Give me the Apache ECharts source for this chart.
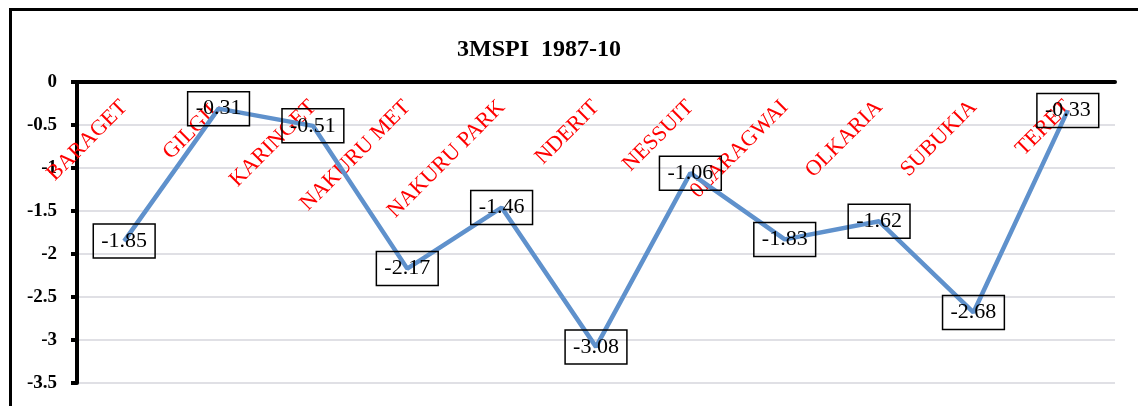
<!DOCTYPE html>
<html>
<head>
<meta charset="utf-8">
<script src="https://cdn.jsdelivr.net/npm/echarts@6/dist/echarts.min.js"></script>
<style>
html,body{margin:0;padding:0;background:#fff;}
#chart{width:1138px;height:406px;}
</style>
</head>
<body>
<div id="chart"></div>
<script>
const titleText = '3MSPI  1987-10';
const categories = ['BARAGET','GILGIL','KARINGET','NAKURU MET','NAKURU PARK','NDERIT','NESSUIT','0LARAGWAI','OLKARIA','SUBUKIA','TERET'];
const spiValues = [-1.85,-0.31,-0.51,-2.17,-1.46,-3.08,-1.06,-1.83,-1.62,-2.68,-0.33];
const yTickLabels = ['-3.5','-3','-2.5','-2','-1.5','-1','-0.5','0'];

const serif = '"Liberation Serif","Times New Roman",serif';
const chart = echarts.init(document.getElementById('chart'), null, {renderer:'canvas'});
chart.setOption({
  animation:false,
  backgroundColor:'#fff',
  graphic:[{
    type:'rect', left:8, top:7, z:-10,
    shape:{x:0,y:0,width:1300,height:600},
    style:{fill:'none',stroke:'#000',lineWidth:3}
  }],
  title:{
    text:titleText, left:452, top:33,
    textStyle:{fontFamily:serif,fontWeight:'bold',fontSize:24,color:'#000'}
  },
  grid:{left:77,right:23,top:82,bottom:23,containLabel:false},
  xAxis:{
    type:'category', data:categories, position:'top', boundaryGap:true,
    axisLine:{show:true,onZero:false,lineStyle:{color:'#000',width:4}},
    axisTick:{show:false},
    splitLine:{show:false},
    axisLabel:{inside:true,rotate:-45,margin:22,interval:0,color:'#ff0000',fontFamily:serif,fontSize:22}
  },
  yAxis:{
    type:'value', min:-3.5, max:0, interval:0.5,
    axisLine:{show:true,lineStyle:{color:'#000',width:4}},
    axisTick:{show:true,inside:false,length:6,lineStyle:{color:'#000',width:4}},
    splitLine:{show:true,lineStyle:{color:'#d6d6dc',width:1.5}},
    axisLabel:{
      margin:20,color:'#000',fontFamily:serif,fontWeight:'bold',fontSize:19,
      formatter:function(v){ const i = Math.round((v+3.5)/0.5); return yTickLabels[i] !== undefined ? yTickLabels[i] : String(v); }
    }
  },
  series:[{
    type:'line', data:spiValues,
    symbol:'circle', symbolSize:1, showSymbol:true,
    itemStyle:{color:'#5f91cc'},
    lineStyle:{color:'#5f91cc',width:4.5},
    label:{
      show:true, position:'inside',
      color:'#000', fontFamily:serif, fontSize:22,
      borderColor:'#000', borderWidth:1.5, padding:[7,8,5,8],
      formatter:function(p){ return p.value.toFixed(2); }
    }
  }]
});
</script>
</body>
</html>
